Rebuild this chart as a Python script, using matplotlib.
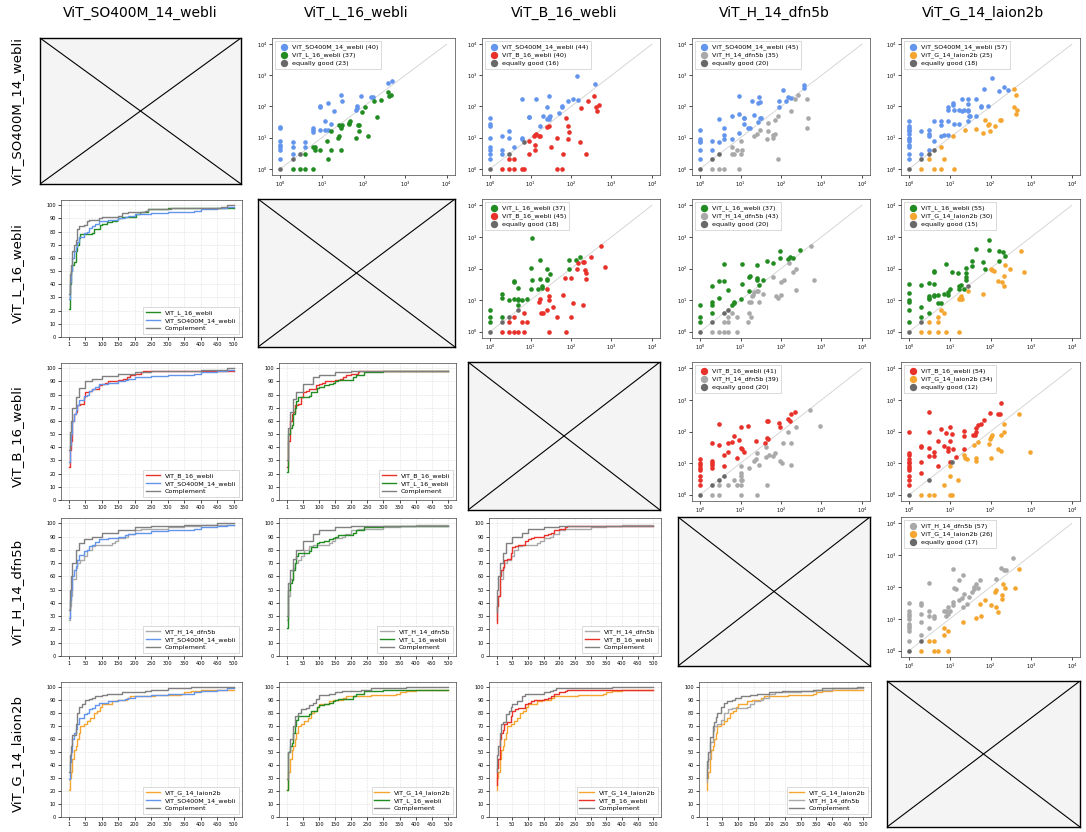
import matplotlib.pyplot as plt
import numpy as np

# model names (row/column order)
models = ['ViT_SO400M_14_webli', 'ViT_L_16_webli', 'ViT_B_16_webli',
          'ViT_H_14_dfn5b', 'ViT_G_14_laion2b']
colors = ['cornflowerblue', 'forestgreen', '#e8312a', 'darkgray', '#f5a631']
equal_color = 'dimgray'

# ---- scatter data: (rank of row model, rank of column model) ----
so_l16 = [(1, 20), (1, 22), (1, 8), (1, 6), (1, 5), (1, 4), (1, 2), (2, 7), (2, 5), (2, 3),
          (4, 7), (4, 5), (6, 20), (6, 18), (6, 15), (9, 105), (9, 95), (9, 17), (12, 35),
          (12, 17), (14, 18), (14, 125), (17, 27), (20, 70), (28, 230), (30, 155), (65, 75),
          (70, 100), (70, 90), (85, 210), (150, 200), (170, 200), (380, 550), (480, 680),
          (2, 1), (3, 1), (4, 1), (6, 1), (4, 3), (6, 5), (7, 5), (7, 4), (9, 4), (14, 2),
          (13, 8), (17, 4), (17, 16), (24, 10), (26, 11), (28, 4), (26, 25), (28, 20), (28, 24),
          (30, 25), (45, 28), (47, 35), (45, 30), (65, 10), (75, 25), (80, 25), (80, 16),
          (90, 65), (110, 95), (130, 11), (180, 145), (210, 45), (270, 160), (380, 300),
          (420, 210), (450, 230), (1, 1), (2, 2), (3, 3)]
so_b16 = [(1, 42), (1, 24), (1, 27), (1, 10), (1, 5), (1, 4), (1, 3), (1, 2), (2, 11), (2, 4),
          (2, 3), (3, 16), (3, 10), (4, 5), (6, 180), (6, 10), (6, 9), (9, 47), (9, 45),
          (14, 180), (17, 23), (20, 48), (25, 40), (25, 95), (28, 220), (28, 45), (28, 40),
          (30, 50), (50, 60), (60, 105), (60, 95), (85, 150), (110, 180), (150, 165),
          (140, 920), (390, 520),
          (2, 1), (3, 1), (4, 1), (6, 1), (7, 1), (45, 1), (60, 1), (3, 2), (4, 2), (9, 8),
          (9, 3), (12, 11), (13, 12), (14, 13), (16, 11), (17, 11), (13, 6), (13, 4), (25, 22),
          (28, 24), (32, 5), (45, 10), (65, 3), (75, 42), (85, 23), (90, 15), (85, 9), (170, 7),
          (180, 90), (230, 3), (260, 145), (380, 220), (420, 95), (450, 70), (480, 115),
          (1, 1), (3, 3), (7, 7)]
so_h14 = [(1, 18), (1, 9), (1, 8), (1, 7), (1, 4), (1, 2), (2, 8), (2, 4), (3, 40), (3, 7),
          (4, 21), (4, 12), (4, 9), (6, 51), (6, 9), (9, 220), (9, 58), (9, 14), (12, 44),
          (12, 42), (12, 27), (15, 21), (17, 20), (19, 145), (22, 55), (27, 133), (27, 32),
          (28, 200), (30, 140), (30, 42), (32, 42), (90, 155), (90, 95), (110, 340), (130, 145),
          (150, 205), (180, 190), (380, 500), (380, 390),
          (2, 1), (3, 1), (4, 1), (9, 1), (6, 5), (6, 3), (7, 3), (8, 4), (10, 8), (10, 3),
          (11, 4), (22, 11), (25, 13), (30, 18), (45, 9), (48, 16), (48, 29), (65, 10), (65, 12),
          (70, 13), (70, 37), (85, 2), (85, 50), (175, 72), (225, 180), (270, 230), (430, 180),
          (450, 20), (470, 42), (1, 1), (2, 2), (3, 3)]
so_g14 = [(1, 33), (1, 23), (1, 20), (1, 17), (1, 16), (1, 13), (1, 10), (1, 9), (1, 8), (1, 6),
          (1, 5), (1, 3), (1, 2), (2, 16), (2, 3), (3, 17), (3, 13), (3, 11), (3, 4), (4, 35),
          (4, 8), (6, 33), (6, 25), (6, 11), (7, 12), (9, 33), (9, 95), (9, 80), (9, 12),
          (12, 130), (12, 115), (13, 80), (13, 28), (17, 80), (17, 28), (20, 170), (20, 70),
          (22, 80), (28, 170), (28, 80), (28, 120), (28, 70), (28, 35), (30, 48), (32, 48),
          (45, 175), (45, 50), (60, 95), (60, 105), (70, 360), (85, 105), (110, 820),
          (160, 320), (220, 410), (270, 340),
          (2, 1), (4, 1), (6, 1), (13, 1), (3, 2), (7, 2), (6, 5), (12, 11), (24, 18), (45, 19),
          (65, 14), (75, 38), (85, 26), (90, 28), (95, 16), (130, 23), (170, 38), (185, 38),
          (380, 95), (380, 360), (420, 58), (450, 75), (430, 240),
          (1, 1), (2, 2), (3, 3), (4, 4)]
l16_b16 = [(1, 5), (1, 3), (1, 2), (2, 16), (2, 12), (2, 3), (3, 10), (4, 41), (4, 38), (4, 11),
           (5, 24), (5, 11), (5, 10), (5, 7), (6, 10), (8, 11), (10, 105), (10, 22), (11, 42),
           (11, 920), (15, 23), (17, 180), (17, 45), (19, 28), (19, 25), (25, 100), (25, 48),
           (25, 42), (30, 65), (90, 95), (90, 185), (130, 185), (170, 225),
           (2, 1), (3, 1), (4, 1), (5, 1), (7, 1), (28, 1), (75, 1), (3, 2), (4, 3), (6, 2),
           (8, 2), (7, 4), (16, 9), (17, 11), (18, 4), (20, 4), (25, 5), (25, 23), (28, 10),
           (28, 13), (35, 6), (45, 3), (65, 15), (70, 50), (100, 3), (100, 50), (110, 8),
           (140, 95), (150, 145), (200, 165), (215, 155), (225, 90), (230, 70), (230, 45),
           (200, 7), (310, 225), (560, 520), (680, 110),
           (1, 1), (2, 2), (3, 3), (5, 5)]
l16_h14 = [(1, 7), (1, 3), (1, 2), (2, 28), (2, 9), (2, 7), (2, 4), (3, 41), (3, 12), (4, 140),
           (4, 41), (5, 21), (6, 7), (7, 8), (7, 9), (10, 11), (11, 140), (11, 33), (16, 20),
           (16, 52), (17, 57), (25, 130), (25, 50), (25, 44), (28, 29), (35, 44), (45, 175),
           (65, 150), (95, 350), (95, 220), (150, 195), (165, 230), (200, 210), (300, 390),
           (2, 1), (3, 1), (4, 1), (5, 1), (8, 1), (4, 2), (5, 2), (5, 3), (6, 4), (8, 3),
           (15, 2), (16, 4), (18, 3), (16, 9), (18, 9), (19, 13), (20, 15), (22, 18), (25, 19),
           (27, 20), (28, 9), (35, 16), (65, 55), (75, 13), (85, 12), (100, 14), (100, 38),
           (120, 43), (160, 145), (200, 75), (230, 98), (230, 21), (560, 500), (660, 42),
           (1, 1), (2, 2), (4, 4), (5, 5)]
l16_g14 = [(1, 33), (1, 17), (1, 10), (1, 9), (1, 5), (1, 2), (2, 30), (2, 6), (2, 3), (3, 35),
           (3, 13), (3, 12), (3, 11), (3, 4), (4, 82), (4, 78), (4, 33), (4, 15), (4, 13),
           (5, 15), (5, 8), (6, 8), (7, 16), (8, 135), (9, 14), (9, 18), (10, 23), (11, 75),
           (16, 70), (17, 22), (17, 27), (19, 30), (22, 23), (25, 105), (25, 70), (25, 52),
           (25, 42), (28, 28), (35, 175), (35, 120), (45, 420), (65, 165), (75, 95), (90, 380),
           (90, 820), (160, 350), (160, 175), (200, 340), (230, 240),
           (2, 1), (3, 1), (5, 1), (8, 1), (17, 1), (3, 2), (5, 2), (5, 3), (6, 5), (7, 4),
           (17, 11), (18, 12), (19, 13), (18, 11), (20, 11), (28, 19), (65, 16), (105, 100),
           (110, 90), (120, 85), (150, 40), (190, 38), (210, 60), (220, 28), (230, 130),
           (300, 95), (560, 370), (680, 80),
           (1, 1), (2, 2)]
b16_h14 = [(1, 13), (1, 10), (1, 9), (1, 7), (1, 6), (1, 4), (1, 3), (1, 2), (2, 43), (2, 12),
           (2, 10), (2, 9), (2, 7), (3, 175), (3, 38), (4, 18), (4, 8), (5, 23), (5, 43), (6, 45),
           (7, 72), (8, 14), (9, 52), (10, 30), (10, 140), (11, 28), (12, 22), (15, 150),
           (24, 51), (40, 43), (45, 210), (45, 62), (48, 58), (48, 220), (90, 190), (95, 140),
           (150, 250), (170, 210), (180, 360), (220, 400),
           (2, 1), (3, 1), (10, 1), (25, 1), (3, 2), (5, 2), (8, 2), (10, 2), (7, 3), (10, 3),
           (10, 4), (10, 5), (11, 3), (10, 8), (16, 7), (22, 12), (25, 21), (24, 13), (28, 9),
           (42, 16), (42, 33), (45, 2), (50, 18), (65, 17), (70, 21), (95, 12), (105, 10),
           (110, 42), (150, 98), (180, 42), (180, 9), (230, 140), (510, 490), (920, 145),
           (1, 1), (2, 2), (3, 3), (4, 4)]
b16_g14 = [(1, 95), (1, 21), (1, 18), (1, 13), (1, 11), (1, 10), (1, 8), (1, 7), (1, 6), (1, 4),
           (1, 3), (1, 2), (2, 36), (2, 33), (2, 11), (2, 5), (3, 410), (3, 100), (3, 31),
           (3, 17), (4, 23), (4, 17), (5, 50), (5, 8), (6, 120), (7, 36), (8, 88), (9, 31),
           (9, 24), (10, 50), (10, 140), (11, 85), (10, 11), (12, 28), (14, 16), (22, 105),
           (22, 70), (22, 28), (38, 80), (42, 78), (45, 130), (45, 97), (48, 160), (60, 170),
           (70, 230), (95, 380), (150, 360), (170, 350), (180, 820),
           (2, 1), (3, 1), (4, 1), (10, 1), (11, 1), (7, 2), (10, 4), (10, 8), (16, 3), (22, 18),
           (24, 15), (26, 13), (40, 38), (44, 14), (45, 12), (50, 48), (90, 40), (95, 58),
           (100, 68), (110, 75), (100, 14), (150, 28), (180, 25), (180, 80), (220, 95),
           (220, 175), (500, 370), (930, 23),
           (1, 1), (3, 3), (11, 11)]
h14_g14 = [(1, 32), (1, 17), (1, 14), (1, 12), (1, 10), (1, 7), (1, 6), (1, 5), (1, 4), (1, 2),
           (2, 32), (2, 27), (2, 14), (2, 8), (2, 3), (3, 135), (3, 17), (3, 12), (3, 5), (4, 12),
           (4, 11), (7, 17), (8, 12), (8, 17), (9, 24), (9, 14), (10, 17), (12, 370), (12, 35),
           (12, 27), (13, 95), (14, 85), (17, 170), (17, 40), (20, 46), (21, 240), (21, 24),
           (22, 62), (27, 29), (30, 50), (35, 72), (40, 100), (40, 85), (45, 120), (50, 95),
           (55, 170), (140, 180), (180, 400), (220, 340), (240, 340), (350, 830),
           (2, 1), (4, 1), (5, 1), (9, 1), (3, 2), (4, 2), (7, 3), (7, 5), (9, 4), (21, 8),
           (45, 11), (60, 12), (55, 30), (75, 38), (100, 28), (140, 23), (150, 16), (130, 70),
           (140, 80), (190, 43), (190, 58), (200, 125), (230, 95), (390, 95), (500, 360),
           (1, 1), (2, 2)]

scatter_pairs = {(0, 1): so_l16, (0, 2): so_b16, (0, 3): so_h14, (0, 4): so_g14,
                 (1, 2): l16_b16, (1, 3): l16_h14, (1, 4): l16_g14,
                 (2, 3): b16_h14, (2, 4): b16_g14, (3, 4): h14_g14}

# legend counts: (row better, column better, equally good)
counts = {(0, 1): (40, 37, 23), (0, 2): (44, 40, 16), (0, 3): (45, 35, 20), (0, 4): (57, 25, 18),
          (1, 2): (37, 45, 18), (1, 3): (37, 43, 20), (1, 4): (55, 30, 15),
          (2, 3): (41, 39, 20), (2, 4): (54, 34, 12), (3, 4): (57, 26, 17)}

# ---- cumulative curves: step points (k, % solved) ----
so_k = [1, 3, 5, 8, 10, 15, 20, 25, 30, 45, 55, 60, 70, 80, 90, 120, 150, 170, 180, 200, 250, 300, 380, 400, 450, 480]
so_p = [29, 42, 50, 56, 60, 65, 68, 72, 76, 79, 80, 83, 84, 86, 88, 89, 90, 91, 92, 93, 94, 95, 96, 97, 98, 99]
l16_k = [1, 3, 5, 10, 15, 20, 25, 30, 35, 70, 75, 95, 100, 115, 130, 145, 150, 160, 205, 215, 240, 300]
l16_p = [21, 40, 50, 55, 57, 65, 70, 75, 78, 79, 82, 85, 86, 87, 88, 89, 90, 91, 93, 95, 97, 98]
b16_k = [1, 3, 5, 10, 15, 20, 25, 35, 45, 50, 60, 70, 90, 100, 110, 120, 150, 165, 175, 185, 200, 220, 225]
b16_p = [25, 38, 45, 60, 65, 67, 72, 73, 78, 82, 83, 84, 87, 88, 89, 90, 91, 92, 93, 95, 96, 97, 98]
h14_k = [1, 3, 5, 10, 20, 25, 35, 45, 55, 70, 80, 130, 140, 150, 170, 180, 200, 220, 300, 350, 400]
h14_p = [27, 38, 45, 58, 66, 70, 72, 75, 80, 83, 84, 85, 87, 89, 90, 92, 95, 96, 97, 98, 99]
g14_k = [1, 3, 5, 10, 15, 20, 25, 30, 35, 45, 55, 65, 75, 85, 95, 100, 130, 145, 175, 185, 260, 340, 350, 370, 400]
g14_p = [21, 30, 35, 45, 52, 55, 60, 65, 70, 72, 74, 76, 80, 82, 85, 87, 89, 90, 92, 93, 94, 95, 96, 97, 98]
curves = [(so_k, so_p), (l16_k, l16_p), (b16_k, b16_p), (h14_k, h14_p), (g14_k, g14_p)]

# complement curves (either model within k)
comp_so_l16 = ([1, 3, 5, 10, 15, 20, 25, 30, 45, 55, 60, 90, 100, 150, 160, 180, 230, 240, 310, 460, 480],
               [33, 48, 55, 65, 70, 74, 82, 84, 85, 88, 89, 90, 91, 92, 94, 95, 96, 97, 98, 99, 100])
comp_so_b16 = ([1, 3, 5, 10, 20, 30, 50, 70, 100, 150, 200, 250, 400, 480],
               [38, 52, 60, 70, 78, 85, 90, 92, 94, 96, 97, 98, 99, 100])
comp_so_h14 = ([1, 3, 5, 10, 20, 30, 45, 70, 100, 150, 200, 250, 350, 450],
               [35, 50, 60, 70, 80, 85, 88, 90, 93, 95, 97, 98, 99, 100])
comp_so_g14 = ([1, 3, 5, 10, 20, 25, 30, 40, 50, 60, 70, 80, 100, 115, 160, 230, 250, 300, 370],
               [35, 48, 55, 63, 72, 80, 85, 87, 90, 91, 92, 93, 94, 95, 96, 97, 98, 99, 100])
comp_l16_b16 = ([1, 3, 5, 10, 20, 30, 50, 80, 100, 150, 200],
                [30, 45, 55, 67, 77, 82, 88, 93, 95, 97, 98])
comp_l16_h14 = ([1, 3, 5, 10, 20, 30, 50, 80, 100, 150, 200],
                [30, 45, 55, 65, 73, 80, 87, 92, 95, 97, 98])
comp_l16_g14 = ([1, 3, 5, 10, 20, 25, 35, 45, 60, 70, 80, 90, 100, 130, 150, 170, 230, 260, 370],
                [29, 42, 50, 60, 70, 78, 80, 83, 84, 86, 88, 91, 94, 95, 96, 97, 98, 99, 100])
comp_b16_h14 = ([1, 3, 5, 10, 20, 30, 50, 80, 100, 150, 200],
                [33, 50, 60, 70, 78, 85, 90, 93, 96, 97, 98])
comp_b16_g14 = ([1, 3, 5, 10, 15, 20, 30, 40, 45, 50, 65, 80, 90, 150, 170, 180, 190, 370],
                [35, 48, 55, 65, 72, 73, 79, 82, 85, 87, 89, 93, 95, 96, 97, 98, 99, 100])
comp_h14_g14 = ([1, 3, 5, 10, 20, 25, 30, 35, 45, 55, 65, 80, 90, 110, 140, 160, 200, 240, 340, 370, 480],
                [30, 43, 50, 62, 70, 73, 77, 80, 85, 88, 89, 90, 92, 93, 94, 95, 96, 97, 98, 99, 100])
complements = {(0, 1): comp_so_l16, (0, 2): comp_so_b16, (0, 3): comp_so_h14, (0, 4): comp_so_g14,
               (1, 2): comp_l16_b16, (1, 3): comp_l16_h14, (1, 4): comp_l16_g14,
               (2, 3): comp_b16_h14, (2, 4): comp_b16_g14, (3, 4): comp_h14_g14}

# ---- layout (pixel boxes of each grid cell) ----
W, H = 1086, 832
col_l = [40, 258, 468, 678, 887]
col_r = [241, 455, 660, 870, 1080]
row_t = [38, 199, 362, 517, 681]
row_b = [184, 347, 510, 666, 827]

fig = plt.figure(figsize=(W / 100, H / 100), dpi=100)


def add_ax(l, t, r, b):
    return fig.add_axes([l / W, 1 - b / H, (r - l) / W, (b - t) / H])


def style_ticks(ax):
    ax.tick_params(labelsize=3.6, length=2, width=0.5, pad=1.5)
    for s in ax.spines.values():
        s.set_linewidth(0.5)
        s.set_color('#444444')


def step_xy(k, p):
    k = list(k) + [500]
    p = list(p) + [p[-1]]
    return k, p


for i in range(5):
    for j in range(5):
        l, r, t, b = col_l[j], col_r[j], row_t[i], row_b[i]
        if i == j:
            ax = add_ax(l, t, r, b)
            ax.set_facecolor('#f4f4f4')
            ax.plot([0, 1], [0, 1], color='black', lw=0.8)
            ax.plot([0, 1], [1, 0], color='black', lw=0.8)
            ax.set_xlim(0, 1)
            ax.set_ylim(0, 1)
            ax.set_xticks([])
            ax.set_yticks([])
            for s in ax.spines.values():
                s.set_linewidth(1.0)
        elif i < j:
            # scatter: x = rank of row model, y = rank of column model
            ax = add_ax(l + 14, t, r, b - 9)
            pts = np.array(scatter_pairs[(i, j)], dtype=float)
            x, y = pts[:, 0], pts[:, 1]
            c = counts[(i, j)]
            ax.plot([1, 1e4], [1, 1e4], color='#d0d0d0', lw=0.6, zorder=0)
            ax.scatter(x[y > x], y[y > x], s=11, color=colors[i], lw=0,
                       label=f'{models[i]} ({c[0]})')
            ax.scatter(x[y < x], y[y < x], s=11, color=colors[j], lw=0,
                       label=f'{models[j]} ({c[1]})')
            ax.scatter(x[y == x], y[y == x], s=11, color=equal_color, lw=0,
                       label=f'equally good ({c[2]})')
            ax.set_xscale('log')
            ax.set_yscale('log')
            ax.set_xticks([1, 10, 100, 1000, 10000])
            ax.set_yticks([1, 10, 100, 1000, 10000])
            ax.minorticks_off()
            style_ticks(ax)
            leg = ax.legend(loc='upper left', fontsize=4.6, markerscale=1.6,
                            handletextpad=0.3, borderpad=0.4, labelspacing=0.35,
                            fancybox=False, edgecolor='#cccccc', framealpha=1)
            leg.get_frame().set_linewidth(0.5)
        else:
            # cumulative curves: row model, column model, complement
            ax = add_ax(l + 21, t + 1, r + 1, b - 10)
            k, p = step_xy(*curves[i])
            ax.step(k, p, where='post', color=colors[i], lw=1.0, label=models[i])
            k, p = step_xy(*curves[j])
            ax.step(k, p, where='post', color=colors[j], lw=1.0, label=models[j])
            ck, cp = complements[(j, i)]
            k, p = step_xy(ck, cp)
            ax.step(k, p, where='post', color='gray', lw=1.0, label='Complement')
            ax.set_xticks([1] + list(range(50, 501, 50)))
            ax.set_yticks(range(0, 101, 10))
            ax.set_xlim(-24, 525)
            ax.set_ylim(0, 104)
            ax.grid(True, ls='--', lw=0.4, color='#e0e0e0')
            ax.set_axisbelow(True)
            style_ticks(ax)
            leg = ax.legend(loc='lower right', fontsize=4.6, handlelength=2.2,
                            borderpad=0.4, labelspacing=0.3, fancybox=False,
                            edgecolor='#cccccc', framealpha=1)
            leg.get_frame().set_linewidth(0.5)

# column titles and row labels
for j in range(5):
    fig.text((col_l[j] + col_r[j]) / 2 / W, 1 - 13 / H, models[j],
             ha='center', va='center', fontsize=10)
for i in range(5):
    fig.text(17 / W, 1 - (row_t[i] + row_b[i]) / 2 / H, models[i],
             ha='center', va='center', rotation=90, fontsize=9.5)

fig.savefig('out.png', dpi=100)
